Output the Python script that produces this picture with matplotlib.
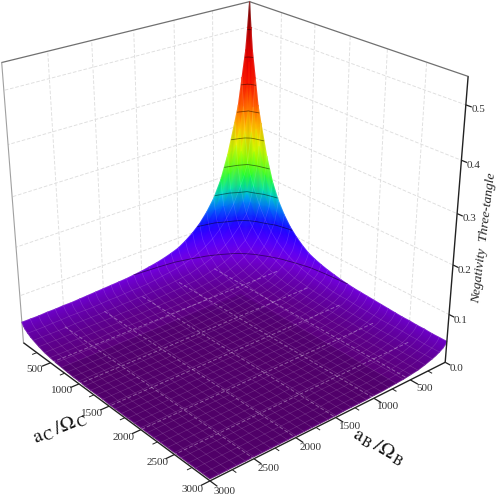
import numpy as np
import matplotlib
matplotlib.use("Agg")
import matplotlib.pyplot as plt
from matplotlib.colors import LinearSegmentedColormap
from mpl_toolkits.mplot3d import proj3d

plt.rcParams['font.family'] = ['Liberation Serif', 'DejaVu Serif']
plt.rcParams['mathtext.fontset'] = 'stix'

W, H = 498, 504

a_nodes = [0, 25, 50, 100, 150, 200, 300, 400, 500, 600, 700, 800, 900, 1000, 1100, 1200, 1300, 1400,
           1500, 1600, 1700, 1800, 1900, 2000, 2100, 2200, 2300, 2400, 2500, 2600, 2700, 2800, 2900, 3000]

# upper triangle of the surface: row = a_B node, values from the diagonal to a_C = 3000
surface_rows = [
 [.550,.500,.455,.400,.345,.310,.245,.195,.160,.135,.115,.100,.088,.078,.072,.067,.063,.060,.057,.055,.053,.052,.051,.050,.049,.048,.047,.046,.046,.045,.045,.044,.044,.044],
 [.430,.385,.340,.295,.262,.205,.165,.135,.114,.097,.085,.075,.067,.062,.058,.054,.052,.049,.047,.046,.045,.044,.043,.042,.041,.041,.040,.040,.039,.039,.038,.038,.038],
 [.330,.288,.248,.220,.172,.140,.115,.097,.083,.073,.065,.059,.054,.050,.047,.045,.043,.041,.040,.039,.039,.038,.037,.036,.036,.036,.036,.035,.035,.034,.034,.034],
 [.225,.198,.178,.143,.117,.097,.082,.071,.062,.055,.050,.046,.043,.041,.038,.036,.035,.035,.034,.033,.033,.032,.031,.031,.031,.031,.030,.030,.029,.029,.029],
 [.160,.145,.116,.097,.080,.068,.058,.052,.045,.041,.038,.036,.034,.032,.031,.030,.029,.029,.028,.028,.027,.026,.026,.026,.026,.025,.025,.025,.025,.025],
 [.122,.100,.083,.069,.058,.051,.045,.040,.035,.033,.031,.029,.028,.027,.026,.026,.025,.025,.024,.024,.023,.023,.023,.023,.022,.022,.022,.022,.022],
 [.075,.062,.052,.044,.038,.034,.030,.027,.026,.024,.023,.022,.021,.020,.020,.019,.019,.019,.018,.018,.018,.018,.018,.017,.017,.017,.017,.017],
 [.050,.041,.035,.030,.026,.024,.022,.020,.019,.018,.017,.017,.016,.016,.015,.015,.015,.014,.014,.014,.014,.014,.014,.014,.013,.013,.013],
 [.033,.028,.025,.022,.019,.018,.016,.015,.015,.014,.014,.013,.013,.013,.012,.012,.012,.012,.012,.011,.011,.011,.011,.011,.011,.011],
 [.024,.021,.018,.017,.015,.014,.013,.013,.012,.012,.011,.011,.011,.010,.010,.010,.010,.010,.010,.010,.009,.009,.009,.009,.009],
 [.018,.016,.014,.013,.012,.011,.011,.010,.010,.010,.009,.009,.009,.009,.009,.009,.009,.008,.008,.008,.008,.008,.008,.008],
 [.014,.013,.012,.011,.010,.010,.009,.009,.008,.008,.008,.008,.008,.008,.008,.008,.007,.007,.007,.007,.007,.007,.007],
 [.011,.010,.010,.009,.009,.008,.008,.008,.007,.007,.007,.007,.007,.007,.007,.007,.007,.006,.006,.006,.006,.006],
 [.009,.009,.008,.008,.007,.007,.007,.007,.007,.007,.006,.006,.006,.006,.006,.006,.006,.006,.006,.006,.006],
 [.008,.008,.007,.007,.007,.006,.006,.006,.006,.006,.006,.006,.006,.006,.006,.005,.005,.005,.005,.005],
 [.007,.007,.007,.006,.006,.006,.006,.006,.006,.005,.005,.005,.005,.005,.005,.005,.005,.005,.005],
 [.007,.006,.006,.006,.006,.006,.005,.005,.005,.005,.005,.005,.005,.005,.005,.005,.005,.005],
 [.006,.006,.006,.005,.005,.005,.005,.005,.005,.005,.005,.005,.005,.005,.005,.005,.005],
 [.006,.005,.005,.005,.005,.005,.005,.005,.005,.005,.005,.004,.004,.004,.004,.004],
 [.005,.005,.005,.005,.005,.005,.005,.005,.005,.004,.004,.004,.004,.004,.004],
 [.005,.005,.005,.005,.005,.005,.004,.004,.004,.004,.004,.004,.004,.004],
 [.005,.005,.005,.005,.004,.004,.004,.004,.004,.004,.004,.004,.004],
 [.005,.005,.004,.004,.004,.004,.004,.004,.004,.004,.004,.004],
 [.004,.004,.004,.004,.004,.004,.004,.004,.004,.004,.004],
 [.004,.004,.004,.004,.004,.004,.004,.004,.004,.004],
 [.004,.004,.004,.004,.004,.004,.004,.004,.004],
 [.004,.004,.004,.004,.004,.004,.004,.004],
 [.004,.004,.004,.004,.004,.004,.004],
 [.004,.004,.004,.004,.004,.004],
 [.004,.004,.004,.004,.004],
 [.004,.004,.004,.004],
 [.004,.004,.004],
 [.004,.004],
 [.004],
]

axis_ticks = [500, 1000, 1500, 2000, 2500, 3000]
axis_minor = [250, 750, 1250, 1750, 2250, 2750]
z_ticks = [0.0, 0.1, 0.2, 0.3, 0.4, 0.5]
z_levels = [0.055, 0.11, 0.165, 0.22, 0.275, 0.33, 0.385, 0.44, 0.495]
z_top = 0.55
a_max = 3000
dark_from = 700

stops = [(0, (88,0,108)), (.02, (95,0,150)), (.055, (115,0,225)), (.08, (80,0,255)), (.11, (20,0,255)),
         (.14, (0,110,255)), (.165, (0,220,220)), (.19, (0,255,60)), (.22, (110,255,0)), (.25, (210,255,0)),
         (.275, (255,240,0)), (.31, (255,170,0)), (.33, (255,130,0)), (.36, (255,20,0)), (.44, (240,0,0)),
         (.50, (160,0,0)), (.55, (90,0,0))]
cmap = LinearSegmentedColormap.from_list('rb', [(v/.55, tuple(c/255 for c in rgb)) for v, rgb in stops], N=512)

n = len(a_nodes)
Z = np.zeros((n, n))
for i, row in enumerate(surface_rows):
    Z[i, i:] = row
    Z[i:, i] = row
A = np.array(a_nodes, float)
X, Y = np.meshgrid(A, A, indexing='ij')

fig = plt.figure(figsize=(W/100, H/100), dpi=100)
ax = fig.add_axes([-89.6/W, -35.3/H, 625.7/W, 625.7/H], projection='3d', proj_type='persp',
                  focal_length=0.4, computed_zorder=False)
ax.set_xlim(0, a_max, view_margin=0)
ax.set_ylim(0, a_max, view_margin=0)
ax.set_zlim(0, z_top, view_margin=0)
ax.set_axis_off()
ax.patch.set_visible(False)
ax.view_init(elev=25.75, azim=50.06)
ax.set_box_aspect((1, 1, 0.997), zoom=0.844)
ax.apply_aspect()

def to_px(x, y, z):
    x, y, z = np.broadcast_arrays(np.asarray(x, float), np.asarray(y, float), np.asarray(z, float))
    sh = x.shape
    xs, ys, _ = proj3d.proj_transform(x.ravel(), y.ravel(), z.ravel(), ax.get_proj())
    p = ax.transData.transform(np.c_[xs, ys])
    return p[:, 0].reshape(sh), p[:, 1].reshape(sh)

grid_kw = dict(color='#dedede', lw=0.65, ls=(0, (4, 2)), clip_on=False)
for a in axis_ticks[:-1]:
    ax.plot([a, a], [0, 0], [0, z_top], **grid_kw)
    ax.plot([0, 0], [a, a], [0, z_top], **grid_kw)
for zt in z_ticks[1:]:
    ax.plot([0, a_max], [0, 0], [zt, zt], **grid_kw)
    ax.plot([0, 0], [0, a_max], [zt, zt], **grid_kw)
edge_kw = dict(color='#707070', lw=0.9, clip_on=False)
ax.plot([0, a_max], [0, 0], [z_top, z_top], **edge_kw)
ax.plot([0, 0], [0, a_max], [z_top, z_top], **edge_kw)
ax.plot([a_max, a_max], [0, 0], [0, z_top], color='#a0a0a0', lw=0.8, clip_on=False)
ax.plot([0, 0], [0, 0], [0, z_top], color='#909090', lw=0.9, clip_on=False)

# surface layer in pixel space with smooth shading, coordinates from the 3D axes' projection
ax2 = fig.add_axes([0, 0, 1, 1], zorder=5)
ax2.set_xlim(0, W)
ax2.set_ylim(0, H)
ax2.axis('off')
PX, PY = to_px(X, Y, Z)
ax2.pcolormesh(PX, PY, Z, shading='gouraud', cmap=cmap, vmin=0, vmax=z_top)
px, py = to_px([dark_from, a_max, a_max, dark_from], [dark_from, dark_from, a_max, a_max], [0.008]*4)
ax2.fill(px, py, color='black', alpha=0.09, lw=0)
mesh_idx = [i for i, a in enumerate(a_nodes) if a % 100 == 0]
for i in mesh_idx:
    ax2.plot(PX[i, :], PY[i, :], color='white', lw=0.45, alpha=0.17)
    ax2.plot(PX[:, i], PY[:, i], color='white', lw=0.45, alpha=0.17)
ax2.contour(PX, PY, Z, levels=z_levels, colors='black', linewidths=0.6, alpha=0.5)
for a in axis_ticks[:-1]:
    px, py = to_px([a, a], [0, a_max], [0, 0])
    ax2.plot(px, py, color='white', lw=0.7, alpha=0.35, ls=(0, (4, 2)))
    px, py = to_px([0, a_max], [a, a], [0, 0])
    ax2.plot(px, py, color='white', lw=0.7, alpha=0.35, ls=(0, (4, 2)))

# axes lines, ticks, labels
def seg(x, y, z, **kw):
    px, py = to_px(x, y, z)
    ax2.plot(px, py, solid_capstyle='butt', clip_on=False, **kw)

seg([a_max, a_max], [0, a_max], [0, 0], color='#222222', lw=1.0)
seg([0, a_max], [a_max, a_max], [0, 0], color='#222222', lw=1.0)
seg([0, 0], [a_max, a_max], [0, z_top], color='#222222', lw=1.0)
for a in axis_ticks:
    seg([a_max, a_max+100], [a, a], [0, 0], color='#222222', lw=0.9)
    seg([a, a], [a_max, a_max+100], [0, 0], color='#222222', lw=0.9)
    ax.text(a_max+190, a, 0, str(a), rotation=30, ha='center', va='center', fontsize=8, color='#333333')
    ax.text(a, a_max+190, 0, str(a), rotation=-32, ha='center', va='center', fontsize=8, color='#333333')
for a in axis_minor:
    seg([a_max, a_max+55], [a, a], [0, 0], color='#222222', lw=0.7)
    seg([a, a], [a_max, a_max+55], [0, 0], color='#222222', lw=0.7)
for zt in z_ticks:
    seg([0, 0], [a_max, a_max+70], [zt, zt], color='#222222', lw=0.9)
    ax.text(0, a_max+150, zt, f"{zt:.1f}", rotation=-8, ha='center', va='center', fontsize=8, color='#333333')

fig.text(484.5/W, 1-238/H, 'Negativity  Three-tangle', rotation=83, style='italic', fontsize=9.7,
         ha='center', va='center', color='#222222')
fig.text(60/W, 1-428/H, r'$\mathrm{a}_{\,\mathrm{C}}\,/\Omega_{\,\mathrm{C}}$', rotation=22, fontsize=14.5,
         ha='center', va='center', color='#111111')
fig.text(378/W, 1-447/H, r'$\mathrm{a}_{\,\mathrm{B}}\,/\Omega_{\,\mathrm{B}}$', rotation=-30, fontsize=14.5,
         ha='center', va='center', color='#111111')
fig.savefig('out.png', dpi=100)
